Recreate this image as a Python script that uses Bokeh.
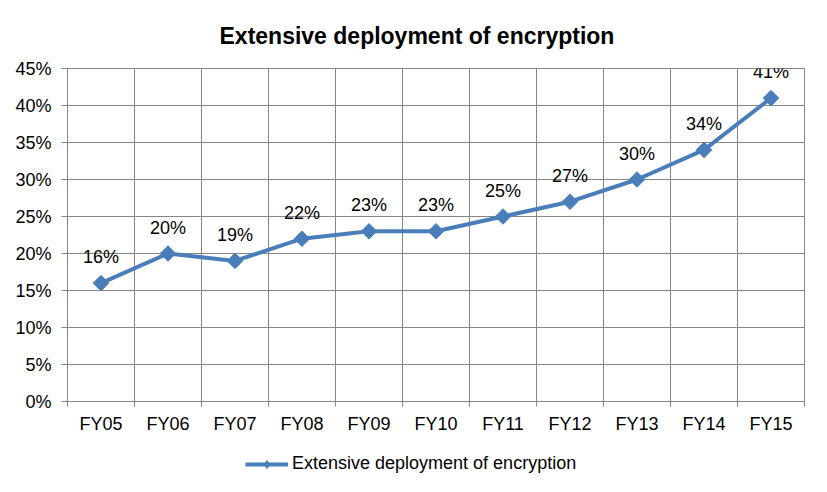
import math
from bokeh.plotting import figure
from bokeh.layouts import column
from bokeh.models import (ColumnDataSource, Range1d, FixedTicker, LabelSet, Legend, LegendItem, NumeralTickFormatter)
from bokeh.core.properties import value
from bokeh.embed import file_html
from bokeh.resources import INLINE

categories = ["FY05", "FY06", "FY07", "FY08", "FY09", "FY10", "FY11", "FY12", "FY13", "FY14", "FY15"]
values = [0.16, 0.20, 0.19, 0.22, 0.23, 0.23, 0.25, 0.27, 0.30, 0.34, 0.41]
labels = ["16%", "20%", "19%", "22%", "23%", "23%", "25%", "27%", "30%", "34%", "41%"]
y_ticks = [0, 0.05, 0.10, 0.15, 0.20, 0.25, 0.30, 0.35, 0.40, 0.45]
series_name = "Extensive deployment of encryption"

FONT = "Liberation Sans"
COLOR = "#4A7EBB"
GRID = "#868686"
FS = "18px"

xs = list(range(len(categories)))
src = ColumnDataSource(dict(x=xs, y=values, label=labels))

p = figure(frame_width=737, frame_height=333, output_backend="svg", toolbar_location=None,
           x_range=Range1d(-0.5, len(categories) - 0.5), y_range=Range1d(0, 0.45),
           min_border_left=67, min_border_right=23, min_border_bottom=40, min_border_top=67)

p.title.text = "Extensive deployment of encryption"
p.title.align = "left"
p.title.offset = 152
p.title.text_font = FONT
p.title.text_font_size = "23px"
p.title.text_font_style = "bold"
p.title.text_color = "#000000"
p.title.standoff = 40

p.outline_line_color = GRID
p.outline_line_width = 1
p.background_fill_color = "white"
p.border_fill_color = "white"

# x axis
p.xaxis.ticker = FixedTicker(ticks=xs, minor_ticks=[i - 0.5 for i in range(len(categories) + 1)])
p.xaxis.major_label_overrides = {i: c for i, c in enumerate(categories)}
p.xaxis.major_tick_line_color = None
p.xaxis.major_tick_out = 0
p.xaxis.major_tick_in = 0
p.xaxis.minor_tick_out = 5
p.xaxis.minor_tick_in = 0
p.xaxis.minor_tick_line_color = GRID
p.xaxis.axis_line_color = GRID
p.xaxis.major_label_text_font = FONT
p.xaxis.major_label_text_font_size = FS
p.xaxis.major_label_text_color = "#000000"
p.xaxis.major_label_standoff = 7

# y axis
p.yaxis.ticker = FixedTicker(ticks=y_ticks)
p.yaxis.formatter = NumeralTickFormatter(format="0%")
p.yaxis.major_tick_out = 6
p.yaxis.major_tick_in = 0
p.yaxis.minor_tick_line_color = None
p.yaxis.major_tick_line_color = GRID
p.yaxis.axis_line_color = GRID
p.yaxis.major_label_text_font = FONT
p.yaxis.major_label_text_font_size = FS
p.yaxis.major_label_text_color = "#000000"
p.yaxis.major_label_standoff = 10

# grids
p.xgrid.ticker = FixedTicker(ticks=[i - 0.5 for i in range(len(categories) + 1)])
p.xgrid.grid_line_color = GRID
p.ygrid.ticker = FixedTicker(ticks=y_ticks)
p.ygrid.grid_line_color = GRID

line = p.line("x", "y", source=src, line_color=COLOR, line_width=4)
pts = p.scatter("x", "y", source=src, marker="square", angle=math.pi / 4, size=11,
                fill_color=COLOR, line_color=COLOR)

lbls = LabelSet(x="x", y="y", text="label", source=src, y_offset=16, text_align="center",
                text_baseline="bottom", text_font=value(FONT), text_font_size=value(FS),
                text_color="#000000")
p.add_layout(lbls)

# legend strip below the chart (series drawn out of view, only the legend shows)
lg = figure(width=827, height=46, output_backend="svg", toolbar_location=None,
            x_axis_type=None, y_axis_type=None,
            x_range=Range1d(-0.5, len(categories) - 0.5), y_range=Range1d(1, 2), min_border=0)
lg.grid.visible = False
lg.outline_line_color = None
lg.background_fill_color = "white"
lg.border_fill_color = "white"
l_line = lg.line("x", "y", source=src, line_color=COLOR, line_width=4)
l_pts = lg.scatter("x", "y", source=src, marker="diamond", size=10,
                   fill_color=COLOR, line_color=COLOR)
legend = Legend(items=[LegendItem(label=series_name, renderers=[l_line, l_pts])],
                location=(178, 13), orientation="horizontal",
                label_text_font=FONT, label_text_font_size=FS, label_text_color="#000000",
                glyph_width=43, glyph_height=20, label_standoff=4, border_line_color=None,
                background_fill_alpha=0, padding=0, margin=0)
lg.add_layout(legend)

open("out.html", "w").write(file_html(column(p, lg, spacing=0), INLINE))
